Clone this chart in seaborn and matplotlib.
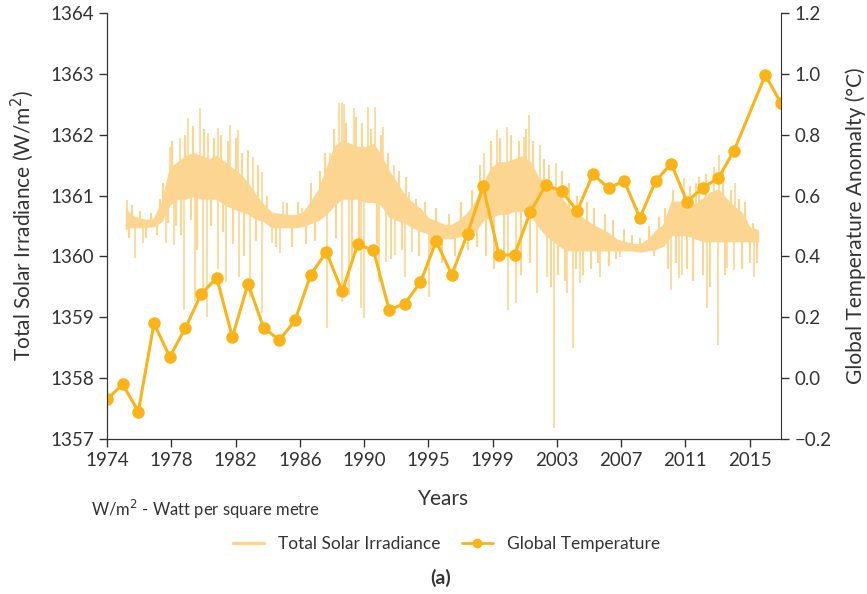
import matplotlib
matplotlib.use('Agg')
import matplotlib.pyplot as plt
from matplotlib.lines import Line2D
import numpy as np
import pandas as pd
import seaborn as sns

# global temperature anomaly (degC), yearly
temp_years = [1974, 1975, 1976, 1977, 1978, 1979, 1980, 1981, 1982, 1983,
              1984, 1985, 1986, 1987, 1988, 1989, 1990, 1991, 1992, 1993,
              1994, 1995, 1996, 1997, 1998, 1999, 2000, 2001, 2002, 2003,
              2004, 2005, 2006, 2007, 2008, 2009, 2010, 2011, 2012, 2013,
              2014, 2016, 2017]
temp_anom = [-0.07, -0.02, -0.11, 0.18, 0.07, 0.165, 0.275, 0.33, 0.135, 0.31,
             0.165, 0.125, 0.19, 0.34, 0.415, 0.285, 0.44, 0.42, 0.225, 0.245,
             0.315, 0.45, 0.34, 0.475, 0.63, 0.405, 0.405, 0.545, 0.635, 0.615,
             0.55, 0.67, 0.625, 0.648, 0.527, 0.648, 0.705, 0.58, 0.625, 0.658,
             0.747, 0.996, 0.904]

# total solar irradiance (W/m2): dense core band, half-year steps
tsi_years = [1975.2, 1975.5, 1976.0, 1976.5, 1977.0, 1977.5, 1978.0, 1978.5, 1979.0, 1979.5,
             1980.0, 1980.5, 1981.0, 1981.5, 1982.0, 1982.5, 1983.0, 1983.5, 1984.0, 1984.5,
             1985.0, 1985.5, 1986.0, 1986.5, 1987.0, 1987.5, 1988.0, 1988.5, 1989.0, 1989.5,
             1990.0, 1990.5, 1991.0, 1991.5, 1992.0, 1992.5, 1993.0, 1993.5, 1994.0, 1994.5,
             1995.0, 1995.5, 1996.0, 1996.5, 1997.0, 1997.5, 1998.0, 1998.5, 1999.0, 1999.5,
             2000.0, 2000.5, 2001.0, 2001.5, 2002.0, 2002.5, 2003.0, 2003.5, 2004.0, 2004.5,
             2005.0, 2005.5, 2006.0, 2006.5, 2007.0, 2007.5, 2008.0, 2008.5, 2009.0, 2009.5,
             2010.0, 2010.5, 2011.0, 2011.5, 2012.0, 2012.5, 2013.0, 2013.5, 2014.0, 2014.5,
             2015.0, 2015.55]
tsi_low = [1360.45, 1360.48, 1360.48, 1360.48, 1360.50, 1360.58, 1360.85, 1360.95, 1360.95, 1361.00,
           1360.95, 1360.95, 1360.95, 1360.85, 1360.80, 1360.75, 1360.70, 1360.62, 1360.58, 1360.48,
           1360.48, 1360.48, 1360.48, 1360.50, 1360.55, 1360.60, 1360.70, 1360.85, 1360.95, 1360.95,
           1360.95, 1360.90, 1360.90, 1360.85, 1360.65, 1360.60, 1360.55, 1360.48, 1360.42, 1360.38,
           1360.33, 1360.30, 1360.30, 1360.33, 1360.35, 1360.42, 1360.60, 1360.65, 1360.70, 1360.70,
           1360.75, 1360.75, 1360.70, 1360.50, 1360.35, 1360.25, 1360.15, 1360.10, 1360.10, 1360.10,
           1360.10, 1360.10, 1360.10, 1360.10, 1360.10, 1360.10, 1360.08, 1360.10, 1360.12, 1360.18,
           1360.35, 1360.35, 1360.35, 1360.30, 1360.25, 1360.25, 1360.25, 1360.25, 1360.25, 1360.25,
           1360.25, 1360.25]
tsi_high = [1360.80, 1360.68, 1360.63, 1360.60, 1360.63, 1360.90, 1361.45, 1361.55, 1361.65, 1361.70,
            1361.65, 1361.60, 1361.65, 1361.55, 1361.45, 1361.35, 1361.20, 1361.00, 1360.85, 1360.72,
            1360.70, 1360.68, 1360.68, 1360.72, 1360.90, 1361.10, 1361.45, 1361.80, 1361.90, 1361.85,
            1361.80, 1361.80, 1361.85, 1361.65, 1361.40, 1361.20, 1361.00, 1360.88, 1360.78, 1360.63,
            1360.58, 1360.52, 1360.52, 1360.60, 1360.72, 1360.90, 1361.20, 1361.45, 1361.55, 1361.55,
            1361.60, 1361.65, 1361.55, 1361.30, 1361.20, 1361.10, 1360.95, 1360.80, 1360.70, 1360.60,
            1360.52, 1360.45, 1360.38, 1360.28, 1360.24, 1360.21, 1360.20, 1360.28, 1360.42, 1360.52,
            1360.90, 1360.90, 1360.90, 1360.85, 1360.95, 1361.05, 1361.10, 1360.95, 1360.82, 1360.72,
            1360.48, 1360.43]

# large single-day excursions of TSI (year, value)
spike_years = [1975.25, 1975.77, 1976.3, 1977.77, 1978.0, 1978.3, 1978.64, 1978.94, 1979.17, 1979.6,
               1979.92, 1980.1, 1980.4, 1980.45, 1981.09, 1981.1, 1981.6, 1981.85, 1982.36, 1982.4,
               1983.13, 1983.3, 1983.88, 1983.9, 1984.5, 1985.05, 1985.2, 1986.43, 1988.03, 1988.24,
               1988.77, 1988.98, 1989.0, 1989.1, 1989.43, 1989.73, 1990.18, 1990.4, 1990.65, 1991.07,
               1991.35, 1991.6, 1991.78, 1992.3, 1992.4, 1993.03, 1993.27, 1993.48, 1994.0, 1994.52,
               1998.03, 1998.88, 1999.52, 1999.59, 2000.12, 2000.59, 2000.9, 2001.44, 2001.65, 2002.08,
               2002.54, 2002.67, 2003.35, 2003.71, 2004.2, 2005.48, 2006.76, 2009.96, 2010.48, 2010.7,
               2010.8, 2011.6, 2012.3, 2012.71, 2012.97, 2013.04, 2013.57, 2014.0, 2014.05, 2015.3]
spike_vals = [1360.92, 1359.97, 1360.22, 1360.22, 1361.80, 1360.19, 1361.94, 1359.12, 1362.27, 1359.26,
              1362.44, 1359.37, 1359.01, 1362.03, 1362.11, 1359.80, 1359.58, 1362.16, 1362.08, 1359.66,
              1359.33, 1361.64, 1359.07, 1361.39, 1360.22, 1360.06, 1360.90, 1360.80, 1358.82, 1361.70,
              1362.52, 1362.52, 1359.25, 1362.50, 1359.37, 1362.44, 1359.15, 1358.99, 1362.45, 1362.45,
              1359.58, 1362.13, 1359.91, 1361.50, 1360.02, 1359.66, 1361.06, 1360.07, 1360.80, 1359.33,
              1361.70, 1362.08, 1362.13, 1359.12, 1359.23, 1361.97, 1362.32, 1359.40, 1361.83, 1359.66,
              1357.18, 1361.53, 1359.40, 1358.49, 1359.56, 1359.66, 1359.99, 1359.45, 1359.64, 1359.70,
              1361.29, 1361.20, 1359.15, 1361.47, 1358.55, 1361.67, 1359.81, 1359.78, 1361.20, 1359.66]

# smaller day-to-day excursions (texture of the daily record)
minor_years = [1975.4, 1975.6, 1976.1, 1976.5, 1976.8, 1977.2, 1977.4, 1977.6, 1977.9, 1978.15,
               1978.4, 1978.75, 1979.0, 1979.35, 1979.5, 1979.75, 1980.2, 1980.65, 1980.8, 1981.3,
               1981.4, 1981.7, 1982.05, 1982.2, 1982.6, 1982.75, 1983.0, 1983.5, 1983.65, 1984.2,
               1984.8, 1985.5, 1985.8, 1986.2, 1986.7, 1987.0, 1987.3, 1987.6, 1987.9, 1988.5,
               1988.6, 1989.25, 1989.6, 1989.9, 1990.05, 1990.3, 1990.85, 1991.2, 1991.45, 1991.9,
               1992.1, 1992.6, 1992.8, 1993.1, 1993.7, 1993.9, 1994.3, 1994.7, 1995.0, 1995.4,
               1995.8, 1996.2, 1996.6, 1997.0, 1997.3, 1997.6, 1997.8, 1998.2, 1998.5, 1998.7,
               1999.1, 1999.3, 1999.8, 2000.3, 2000.4, 2000.75, 2001.0, 2001.2, 2001.85, 2002.2,
               2002.3, 2002.8, 2003.0, 2003.2, 2003.5, 2003.9, 2004.0, 2004.4, 2004.6, 2004.9,
               2005.1, 2005.3, 2005.8, 2006.0, 2006.3, 2006.5, 2007.0, 2007.5, 2008.0, 2008.6,
               2008.9, 2009.2, 2009.6, 2009.8, 2010.1, 2010.3, 2011.0, 2011.2, 2011.4, 2011.8,
               2012.0, 2012.2, 2012.5, 2013.3, 2013.4, 2013.8, 2014.3, 2014.5, 2014.7, 2015.0,
               2015.2, 2015.5]
minor_vals = [1360.30, 1360.85, 1360.75, 1360.30, 1360.72, 1360.35, 1360.95, 1361.20, 1360.55, 1361.90,
              1360.50, 1360.35, 1362.00, 1360.60, 1362.15, 1360.10, 1362.10, 1360.50, 1361.95, 1362.00,
              1360.40, 1361.90, 1360.20, 1361.95, 1361.70, 1360.00, 1361.75, 1360.25, 1361.50, 1361.00,
              1360.15, 1360.88, 1360.15, 1360.90, 1360.20, 1361.20, 1360.25, 1361.40, 1361.70, 1362.10,
              1360.30, 1362.20, 1359.90, 1362.30, 1360.10, 1362.20, 1362.10, 1360.20, 1362.00, 1361.70,
              1359.95, 1361.40, 1360.10, 1361.30, 1360.95, 1360.00, 1360.90, 1360.10, 1360.80, 1359.90,
              1360.70, 1360.00, 1360.90, 1360.10, 1361.10, 1360.15, 1361.50, 1360.00, 1361.90, 1359.80,
              1361.95, 1359.95, 1362.00, 1361.90, 1359.70, 1362.10, 1359.90, 1361.90, 1361.60, 1361.50,
              1359.50, 1359.70, 1361.40, 1359.60, 1361.20, 1359.80, 1361.00, 1359.70, 1360.90, 1359.80,
              1360.80, 1359.90, 1360.70, 1359.85, 1360.60, 1359.95, 1360.45, 1360.35, 1360.30, 1360.50,
              1360.00, 1360.65, 1360.80, 1359.80, 1361.10, 1359.90, 1359.80, 1361.15, 1359.60, 1361.30,
              1359.70, 1361.35, 1359.50, 1361.45, 1359.70, 1361.10, 1360.95, 1359.80, 1360.90, 1359.90,
              1360.55, 1359.90]

xtick_labels = ['1974', '1978', '1982', '1986', '1990', '1995', '1999', '2003', '2007', '2011', '2015']

tsi_color = '#fcd590'
temp_color = '#fbb418'
text_color = '#333333'

sns.set_style('ticks')
plt.rcParams['font.family'] = ['Lato', 'DejaVu Sans']
plt.rcParams['text.color'] = text_color
plt.rcParams['axes.labelcolor'] = text_color
plt.rcParams['xtick.color'] = text_color
plt.rcParams['ytick.color'] = text_color
plt.rcParams['axes.edgecolor'] = text_color

fig = plt.figure(figsize=(8.67, 5.94), dpi=100)
ax = fig.add_axes([0.1234, 0.261, 0.7774, 0.717])

tsi = pd.DataFrame({'year': tsi_years, 'low': tsi_low, 'high': tsi_high})
mid_core = (tsi['low'] + tsi['high']) / 2
ax.fill_between(tsi['year'], tsi['low'], tsi['high'], color=tsi_color, lw=0.8, edgecolor=tsi_color)
mid = np.interp(spike_years, tsi_years, mid_core)
ax.vlines(spike_years, mid, spike_vals, color=tsi_color, lw=1.2)
mid_minor = np.interp(minor_years, tsi_years, mid_core)
ax.vlines(minor_years, mid_minor, minor_vals, color=tsi_color, lw=1.5)

ax.set_xlim(1974, 2017)
ax.set_ylim(1357, 1364)
ax.set_yticks(range(1357, 1365))
ax.set_xticks([1974 + 4.1 * i for i in range(len(xtick_labels))])
ax.set_xticklabels(xtick_labels)
ax.set_xlabel('Years', fontsize=15, labelpad=14)
ax.set_ylabel('Total Solar Irradiance (W/m$^2$)', fontsize=15, labelpad=10)
ax.tick_params(labelsize=13.5, length=6, width=1)

ax2 = ax.twinx()
temp = pd.DataFrame({'year': temp_years, 'anom': temp_anom})
sns.lineplot(data=temp, x='year', y='anom', ax=ax2, color=temp_color, lw=2.2,
             marker='o', markersize=9, markeredgewidth=0)
ax2.set_ylim(-0.2, 1.2)
ax2.set_yticks(np.arange(-0.2, 1.21, 0.2))
ax2.set_yticklabels(['\u22120.2', '0.0', '0.2', '0.4', '0.6', '0.8', '1.0', '1.2'])
ax2.set_ylabel('Global Temperature Anomalty (\u00b0C)', fontsize=15, labelpad=10)
ax2.set_xlabel('')
ax2.tick_params(labelsize=13.5, length=6, width=1)

for a in (ax, ax2):
    a.spines['top'].set_visible(False)
ax.spines['right'].set_visible(False)

fig.text(0.105, 0.131, 'W/m$^2$ - Watt per square metre', fontsize=12)

handles = [Line2D([], [], color=tsi_color, lw=2.5),
           Line2D([], [], color=temp_color, lw=2, marker='o', markersize=6)]
fig.legend(handles, ['Total Solar Irradiance', 'Global Temperature'],
           loc='center', bbox_to_anchor=(0.515, 0.084), ncol=2, frameon=False,
           fontsize=12.5, handlelength=1.8, columnspacing=1.2)
fig.text(0.508, 0.027, '(a)', fontsize=14, fontweight='bold', ha='center', va='center')

fig.savefig('out.png', dpi=100)
